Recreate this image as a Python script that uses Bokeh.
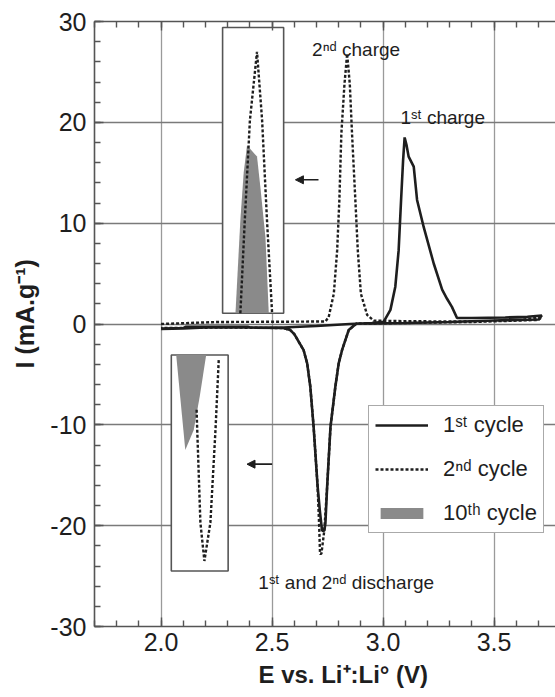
from bokeh.plotting import figure
from bokeh.models import (LinearAxis, SingleIntervalTicker, NumeralTickFormatter, Label, Title,
                          Arrow, NormalHead, Legend, LegendItem, Range1d, CustomJSTickFormatter)
from bokeh.embed import file_html
from bokeh.resources import INLINE

# ---------------- data ----------------
# 1st cycle (solid): E (V) vs I (mA/g), anodic sweep then cathodic sweep
cycle1_E = [2.00, 2.10, 2.11, 2.39, 2.40, 2.55, 2.70, 2.85, 2.95, 3.003, 3.033, 3.055, 3.07,
            3.081, 3.09, 3.097, 3.105, 3.115, 3.138, 3.153, 3.183, 3.228, 3.266, 3.288, 3.31,
            3.333, 3.40, 3.55, 3.65, 3.715,
            3.70, 3.50, 3.30, 3.10, 2.95, 2.88, 2.845, 2.815, 2.80, 2.785, 2.763, 2.748, 2.74,
            2.735, 2.725, 2.715, 2.705, 2.687, 2.672, 2.658, 2.642, 2.60, 2.582, 2.55, 2.40,
            2.20, 2.10, 2.00]
cycle1_I = [-0.45, -0.40, -0.28, -0.27, -0.35, -0.35, -0.20, 0.00, 0.10, 0.23, 1.4, 3.7, 7.3,
            12.3, 16.2, 18.5, 17.8, 16.6, 15.6, 12.3, 9.6, 6.0, 3.4, 2.5, 1.7,
            0.6, 0.6, 0.65, 0.72, 0.85,
            0.45, 0.35, 0.20, 0.10, 0.05, 0.05, -0.6, -2.6, -3.9, -6.2, -10.2, -16.1, -19.8,
            -20.5, -20.5, -18.5, -16.1, -10.2, -6.2, -3.9, -2.6, -1.0, -0.6, -0.40, -0.35,
            -0.35, -0.45, -0.50]

# 2nd cycle (dotted)
cycle2_E = [2.00, 2.10, 2.25, 2.50, 2.74, 2.755, 2.778, 2.793, 2.803, 2.812, 2.826, 2.838,
            2.85, 2.86, 2.875, 2.886, 2.90, 2.928, 2.958, 3.10, 3.30, 3.50, 3.62, 3.715,
            3.70, 3.40, 3.10, 2.95, 2.88, 2.845, 2.815, 2.80, 2.785, 2.763, 2.748, 2.735,
            2.722, 2.716, 2.712, 2.705, 2.687, 2.672, 2.658, 2.642, 2.60, 2.582, 2.55, 2.30,
            2.00]
cycle2_I = [0.00, 0.08, 0.20, 0.22, 0.25, 0.7, 3.0, 7.3, 12.3, 18.9, 23.8, 26.8,
            23.8, 18.9, 12.3, 7.3, 3.0, 0.9, 0.33, 0.28, 0.25, 0.28, 0.40, 0.70,
            0.40, 0.20, 0.10, 0.05, 0.05, -0.6, -2.6, -3.9, -6.2, -10.2, -16.1, -20.5,
            -22.8, -22.8, -20.0, -16.1, -10.2, -6.2, -3.9, -2.6, -1.0, -0.6, -0.40, -0.35,
            -0.40]

# upper inset (magnified charge peak): 10th cycle (grey) and 2nd cycle (dotted)
up10_E = [2.335, 2.357, 2.372, 2.387, 2.40, 2.432, 2.447, 2.47, 2.485]
up10_I = [1.06, 10.3, 15.0, 17.7, 17.4, 16.6, 13.6, 8.6, 1.06]
up2_E = [2.357, 2.377, 2.40, 2.432, 2.455, 2.477, 2.50]
up2_I = [1.06, 10.3, 20.2, 27.0, 20.2, 10.3, 1.06]

# lower inset (magnified discharge peak): 10th cycle (grey) and 2nd cycle (dotted)
low10_E = [2.068, 2.109, 2.147, 2.174, 2.203]
low10_I = [-3.07, -12.5, -10.5, -7.2, -3.07]
low2_E = [2.16, 2.162, 2.177, 2.195, 2.222, 2.245, 2.26]
low2_I = [-8.5, -10.0, -19.7, -23.5, -19.7, -10.5, -3.4]

legend_labels = ["1ˢᵗ cycle", "2ⁿᵈ cycle", "10ᵗʰ cycle"]

# ---------------- figure ----------------
FONT = "Liberation Sans"
INK = "#1e1e1e"
FRAME = "#555555"
GREY = "#8a8a8a"

p = figure(width=555, height=697, output_backend="svg", toolbar_location=None,
           title_location=None, x_axis_location=None, y_axis_location=None,
           x_range=Range1d(1.70, 1.70 + 461 / 222.0), y_range=Range1d(-30, 30),
           min_border_left=94, min_border_right=0, min_border_top=21, min_border_bottom=71)
p.outline_line_color = None
p.background_fill_color = "white"
p.border_fill_color = "white"

xt = SingleIntervalTicker(interval=0.5, num_minor_ticks=5)
yt = SingleIntervalTicker(interval=10, num_minor_ticks=5)


def style_axis(ax):
    ax.axis_line_color = FRAME
    ax.axis_line_width = 1.6
    ax.major_tick_line_color = FRAME
    ax.minor_tick_line_color = FRAME
    ax.major_tick_line_width = 1.4
    ax.minor_tick_line_width = 1.4
    ax.major_tick_in = 9
    ax.major_tick_out = 0
    ax.minor_tick_in = 6
    ax.minor_tick_out = 0
    ax.major_label_text_font = FONT
    ax.major_label_text_color = INK
    ax.major_label_text_font_size = "25px"


bottom = LinearAxis(ticker=xt, formatter=NumeralTickFormatter(format="0.0"))
style_axis(bottom)
bottom.major_label_standoff = 6
p.add_layout(bottom, "below")

top = LinearAxis(ticker=xt, formatter=CustomJSTickFormatter(code="return ''"))
style_axis(top)
top.major_label_standoff = 0
p.add_layout(top, "above")

left = LinearAxis(ticker=yt, formatter=NumeralTickFormatter(format="0"))
style_axis(left)
left.major_label_standoff = 8
p.add_layout(left, "left")

p.xgrid.ticker = xt
p.ygrid.ticker = yt
p.xgrid.grid_line_color = "#9a9a9a"
p.xgrid.grid_line_width = 1.3
p.ygrid.grid_line_color = "#7a7a7a"
p.ygrid.grid_line_width = 1.6

# main curves
r2 = p.line(cycle2_E, cycle2_I, line_color=INK, line_width=2.4, line_dash="3 2")
r1 = p.line(cycle1_E, cycle1_I, line_color=INK, line_width=2.6)

# inset frames (white boxes)
p.quad(left=[2.277], right=[2.552], bottom=[1.06], top=[29.4],
       fill_color="white", line_color=FRAME, line_width=1.6)
p.quad(left=[2.046], right=[2.302], bottom=[-24.5], top=[-3.07],
       fill_color="white", line_color=FRAME, line_width=1.6)

# inset contents
g1 = p.patch(up10_E, up10_I, fill_color=GREY, line_color=None)
p.line(up2_E, up2_I, line_color=INK, line_width=2.4, line_dash="3 2")
g2 = p.patch(low10_E, low10_I, fill_color=GREY, line_color=None)
p.line(low2_E, low2_I, line_color=INK, line_width=2.4, line_dash="3 2")

# arrows pointing to the insets
for xs, xe, yy in [(2.709, 2.605, 14.3), (2.50, 2.387, -13.9)]:
    p.add_layout(Arrow(end=NormalHead(size=8, fill_color=INK, line_color=INK, line_width=1),
                       x_start=xs, y_start=yy, x_end=xe, y_end=yy,
                       line_color=INK, line_width=1.6))

# annotations
for txt, x, y in [("2ⁿᵈ charge", 2.68, 27.2), ("1ˢᵗ charge", 3.078, 20.45),
                  ("1ˢᵗ and 2ⁿᵈ discharge", 2.438, -25.6)]:
    p.add_layout(Label(x=x, y=y, text=txt, text_font=FONT, text_font_size="19px",
                       text_color=INK, text_align="left", text_baseline="alphabetic"))

# axis titles
p.add_layout(Title(text="E vs. Li⁺:Li° (V)", align="left", offset=164, standoff=11,
                   text_font=FONT, text_font_size="24px", text_font_style="bold",
                   text_color=INK), "below")
p.add_layout(Title(text="I (mA.g⁻¹)", align="left", offset=258, standoff=17,
                   text_font=FONT, text_font_size="25px", text_font_style="bold",
                   text_color=INK), "left")

legend = Legend(items=[LegendItem(label=legend_labels[0], renderers=[r1]),
                       LegendItem(label=legend_labels[1], renderers=[r2]),
                       LegendItem(label=legend_labels[2], renderers=[g1, g2])],
                location=(274, 93))
legend.margin = 0
legend.padding = 6
legend.spacing = 18
legend.glyph_width = 53
legend.glyph_height = 14
legend.label_standoff = 15
legend.label_text_font = FONT
legend.label_text_font_size = "22px"
legend.label_text_color = INK
legend.border_line_color = FRAME
legend.border_line_width = 1.6
legend.background_fill_color = "white"
legend.background_fill_alpha = 1.0
p.add_layout(legend, "center")

open("out.html", "w").write(file_html(p, INLINE))
